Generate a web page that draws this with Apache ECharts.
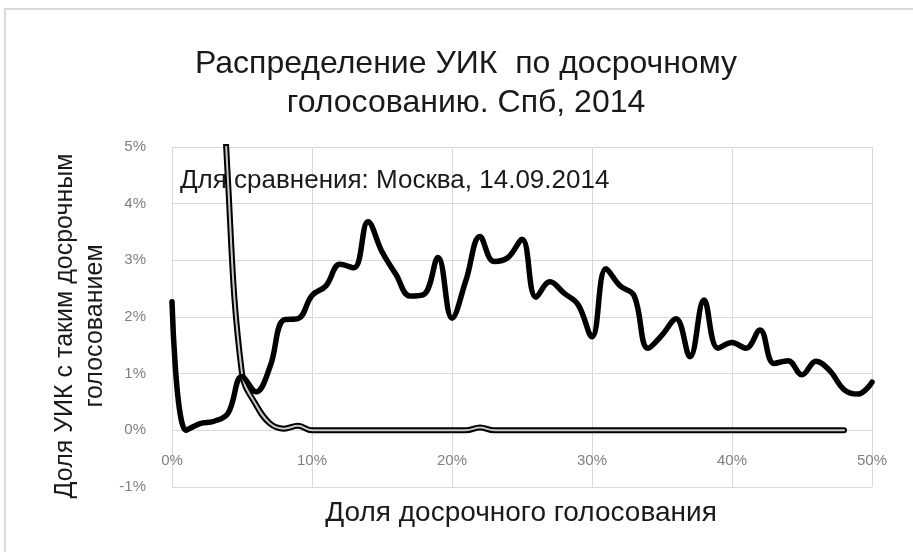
<!DOCTYPE html>
<html>
<head>
<meta charset="utf-8">
<title>Распределение УИК по досрочному голосованию</title>
<script src="https://cdn.jsdelivr.net/npm/echarts@6/dist/echarts.min.js"></script>
<style>
  html, body { margin: 0; padding: 0; background: #fff; }
  #chart { width: 913px; height: 552px; }
</style>
</head>
<body>
<div id="chart"></div>
<script>
// доля досрочного голосования, %
const shares = [0, 1, 2, 3, 4, 5, 6, 7, 8, 9, 10, 11, 12, 13, 14, 15, 16, 17, 18, 19, 20,
  21, 22, 23, 24, 25, 26, 27, 28, 29, 30, 31, 32, 33, 34, 35, 36, 37, 38, 39, 40,
  41, 42, 43, 44, 45, 46, 47, 48, 49, 50]

// Спб, 2014: доля УИК, %
const spbShare = [2.27, 0.0, 0.12, 0.16, 0.3, 0.95, 0.68, 1.12, 1.95, 1.97, 2.38,
  2.55, 2.93, 2.87, 3.68, 3.15, 2.75, 2.37, 2.4, 3.05, 1.98,
  2.65, 3.42, 2.98, 3.05, 3.37, 2.35, 2.62, 2.42, 2.22, 1.65,
  2.85, 2.55, 2.38, 1.45, 1.68, 1.97, 1.3, 2.3, 1.45, 1.55,
  1.45, 1.77, 1.18, 1.23, 0.98, 1.22, 1.05, 0.72, 0.64, 0.85]

// Москва, 14.09.2014 (начинается выше 5%, обрезано осью)
const moscowStart = 3
const moscowShare = [10, 4.4, 1.0, 0.45, 0.12, 0.03, 0.08, 0, 0, 0,
  0, 0, 0, 0, 0, 0, 0, 0, 0, 0.05,
  0, 0, 0, 0, 0, 0, 0, 0, 0, 0,
  0, 0, 0, 0, 0, 0, 0, 0, 0, 0,
  0, 0, 0, 0, 0, 0]

const yTicks = [-1, 0, 1, 2, 3, 4, 5]

const spbData = shares.map((x, i) => [x, spbShare[i]])
const moscowData = moscowShare.map((v, i) => [moscowStart + i, v])

const chart = echarts.init(document.getElementById('chart'))

const font = 'Liberation Sans, Arial, sans-serif'

const option = {
  animation: false,
  title: {
    text: 'Распределение УИК  по досрочному\nголосованию. Спб, 2014',
    left: 461,
    textAlign: 'center',
    top: 40,
    textStyle: {
      fontFamily: font,
      fontSize: 32,
      fontWeight: 'normal',
      lineHeight: 39,
      color: '#1a1a1a'
    }
  },
  graphic: [
    {
      type: 'rect',
      shape: { x: 5, y: 9, width: 940, height: 600 },
      style: { fill: 'none', stroke: '#d9d9d9', lineWidth: 2 },
      silent: true,
      z: -10
    },
    {
      type: 'text',
      left: 180,
      top: 168,
      style: {
        text: 'Для сравнения: Москва, 14.09.2014',
        font: '26px ' + font,
        fill: '#1a1a1a'
      },
      z: 1
    },
    {
      // подпись оси Y
      type: 'text',
      x: 80,
      y: 326,
      rotation: Math.PI / 2,
      style: {
        text: 'Доля УИК с таким досрочным\nголосованием',
        font: '25px ' + font,
        lineHeight: 30,
        align: 'center',
        verticalAlign: 'middle',
        fill: '#1a1a1a'
      }
    },
    {
      // подпись оси X
      type: 'text',
      x: 521,
      y: 513,
      style: {
        text: 'Доля досрочного голосования',
        font: '28px ' + font,
        align: 'center',
        verticalAlign: 'middle',
        fill: '#1a1a1a'
      }
    }
  ],
  grid: {
    left: 172,
    right: 41,
    top: 147,
    bottom: 65,
    containLabel: false,
    outerBoundsMode: 'none'
  },
  xAxis: {
    type: 'value',
    min: 0,
    max: 50,
    interval: 10,
    axisLine: { show: false },
    axisTick: { show: false },
    axisLabel: {
      formatter: '{value}%',
      margin: -34,
      fontFamily: font,
      fontSize: 15,
      color: '#808080'
    },
    splitLine: { show: true, lineStyle: { color: '#d9d9d9' } }
  },
  yAxis: {
    type: 'value',
    min: yTicks[0],
    max: yTicks[yTicks.length - 1],
    interval: 1,
    axisLine: { show: false },
    axisTick: { show: false },
    axisLabel: {
      formatter: '{value}%',
      margin: 26,
      fontFamily: font,
      fontSize: 15,
      color: '#808080'
    },
    splitLine: { show: true, lineStyle: { color: '#d9d9d9' } }
  },
  series: [
    {
      name: 'Москва, 14.09.2014',
      type: 'line',
      data: moscowData,
      smooth: 0.4,
      symbol: 'none',
      clip: true,
      lineStyle: { color: '#000', width: 6, cap: 'round' },
      z: 3
    },
    {
      name: 'Москва, 14.09.2014 (inner)',
      type: 'line',
      data: moscowData,
      smooth: 0.4,
      symbol: 'none',
      clip: true,
      lineStyle: { color: '#c8c8c8', width: 2, cap: 'round' },
      z: 4
    },
    {
      name: 'Спб, 2014',
      type: 'line',
      data: spbData,
      smooth: 0.4,
      symbol: 'none',
      clip: true,
      lineStyle: { color: '#000', width: 5.5, cap: 'round', join: 'round' },
      z: 5
    }
  ]
}

chart.setOption(option)
</script>
</body>
</html>
